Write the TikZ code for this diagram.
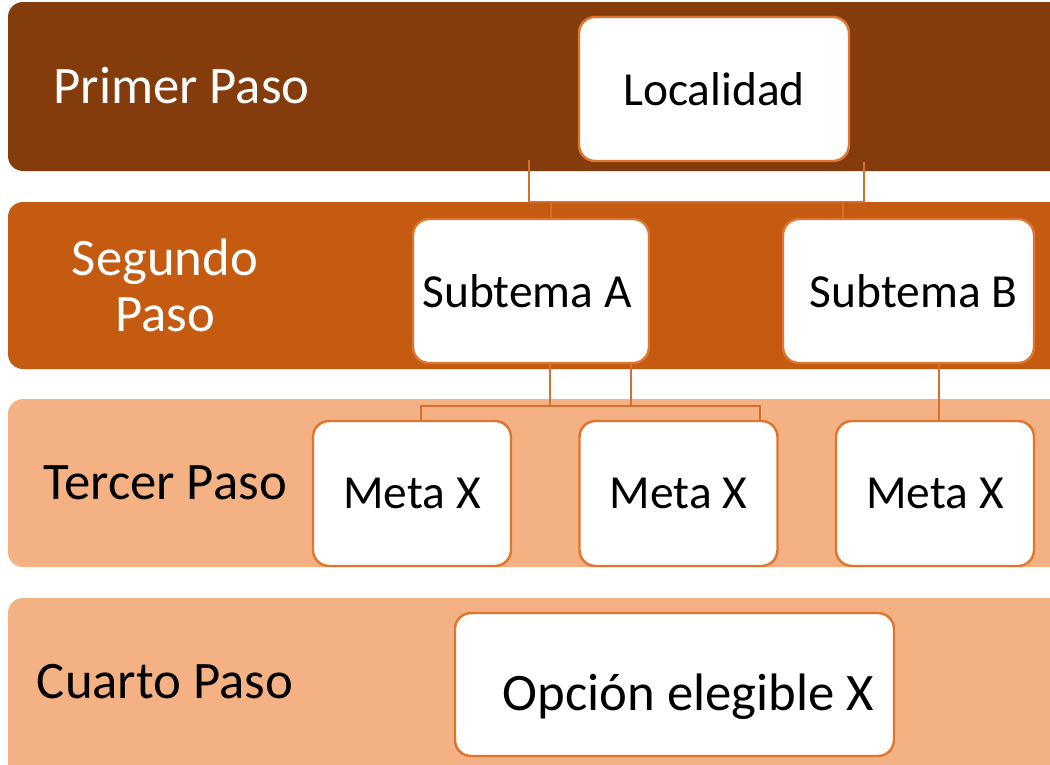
\documentclass[tikz,border=0pt]{standalone}
\usepackage{fontspec}
\setmainfont{Carlito}
\usetikzlibrary{positioning}

\definecolor{paso one}{RGB}{132,60,12}
\definecolor{paso two}{RGB}{197,90,17}
\definecolor{paso light}{RGB}{244,177,131}
\definecolor{box edge}{RGB}{222,118,48}
\definecolor{link col}{RGB}{214,110,48}

\begin{document}
\begin{tikzpicture} [
    band/.style = {rounded corners=0.15cm},
    pasobox/.style = {draw=box edge, fill=white, line width=0.7pt,
        rounded corners=0.16cm, minimum height=1.44cm, inner sep=0pt,
        font=\fontsize{13.5}{16}\selectfont},
    pasolabel/.style = {font=\fontsize{15}{16}\selectfont, align=center},
    link/.style = {draw=link col, line width=0.6pt}
]
    \useasboundingbox (0,0) rectangle (10.5,-7.64);
    \clip (0,0) rectangle (10.5,-7.64);

    % the four bands
    \fill[band, paso one]   (0.08,-0.02) rectangle (10.8,-1.71);
    \fill[band, paso two]   (0.08,-2.02) rectangle (10.8,-3.69);
    \fill[band, paso light] (0.08,-3.99) rectangle (10.8,-5.67);
    \fill[band, paso light] (0.08,-5.98) rectangle (10.8,-7.90);

    \node[pasolabel, text=white, anchor=west] (paso1) at (0.41,-0.86) {Primer Paso};
    \node[pasolabel, text=white] (paso2) at (1.65,-2.85) {Segundo\\Paso};
    \node[pasolabel] (paso3) at (1.65,-4.83) {Tercer Paso};
    \node[pasolabel] (paso4) at (1.65,-6.82) {Cuarto Paso};

    % boxes
    \node[pasobox, minimum width=2.70cm] (loc) at (7.14,-0.89) {Localidad};
    \node[pasobox, minimum width=2.36cm] (suba) at (5.31,-2.91) {\makebox[2.1cm]{Subtema A\hspace{0.08cm}}};
    \node[pasobox, minimum width=2.51cm] (subb) at (9.085,-2.91) {\makebox[2.1cm]{\hspace{0.1cm}Subtema B}};

    \node[pasobox, minimum width=1.98cm, minimum height=1.45cm] (meta1) at (4.12,-4.935) {Meta X};
    \node[pasobox, minimum width=1.98cm, minimum height=1.45cm] (meta2) at (6.785,-4.935) {Meta X};
    \node[pasobox, minimum width=1.98cm, minimum height=1.45cm] (meta3) at (9.35,-4.935) {Meta X};

    \node[pasobox, minimum width=4.39cm, minimum height=1.43cm,
        text height=0.56cm, text depth=0.04cm, font=\fontsize{15}{17}\selectfont]
        (opc) at (6.745,-6.845) {\makebox[3.99cm][r]{Opción elegible X}};

    % connectors
    \coordinate (locl) at (5.29,-1.60);
    \coordinate (locr) at (8.64,-1.62);
    \coordinate (join1) at (5.29,-2.02);
    \coordinate (stubA) at (5.51,-2.02);
    \coordinate (stubB) at (8.43,-2.02);
    \draw[link] (locl) -- (join1) -- (join1 -| locr) -- (locr);
    \draw[link] (stubA) -- (stubA |- suba.north);
    \draw[link] (stubB) -- (stubB |- subb.north);

    \coordinate (dropA1) at (5.50,-4.06);
    \coordinate (dropA2) at (6.31,-4.06);
    \coordinate (join2l) at (4.21,-4.06);
    \coordinate (join2r) at (7.60,-4.06);
    \coordinate (dropB) at (9.39,-4.06);
    \draw[link] (dropA1 |- suba.south) -- (dropA1);
    \draw[link] (dropA2 |- suba.south) -- (dropA2);
    \draw[link] (join2l |- meta1.north) -- (join2l) -- (join2r) -- (join2r |- meta2.north);
    \draw[link] (dropB |- subb.south) -- (dropB |- meta3.north);
\end{tikzpicture}
\end{document}
